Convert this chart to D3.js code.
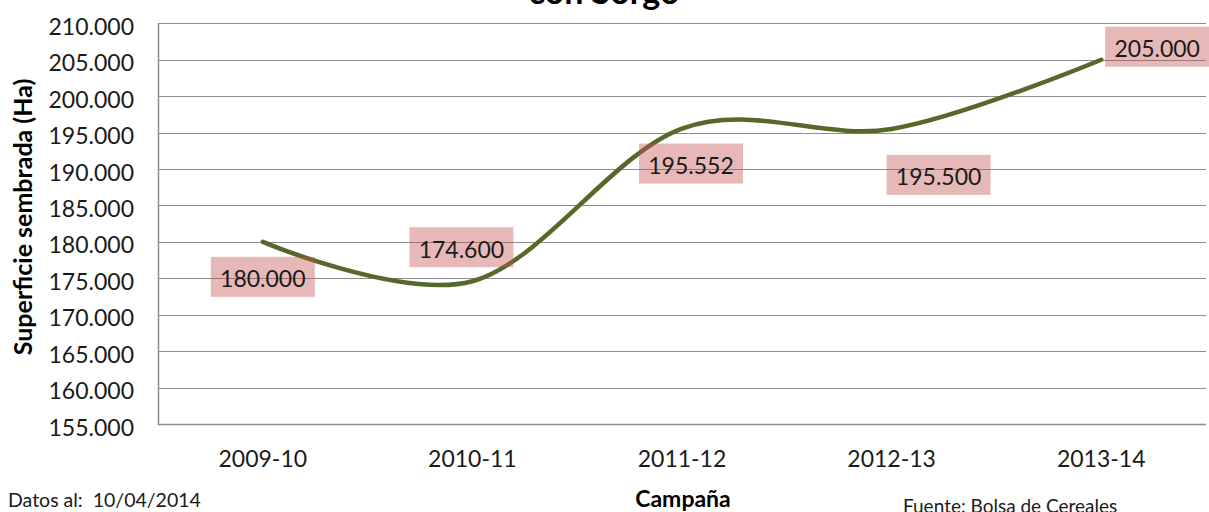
<!DOCTYPE html>
<html><head><meta charset="utf-8">
<script src="https://cdn.jsdelivr.net/npm/d3@7"></script>
<style>body{margin:0;background:#fff}svg{display:block;font-family:Lato,"Open Sans",sans-serif}</style>
</head><body>
<svg id="c" width="1209" height="512"></svg>
<script>
const categories = ["2009-10","2010-11","2011-12","2012-13","2013-14"];
const values = [180000,174600,195552,195500,205000];
const yTicks = [155000,160000,165000,170000,175000,180000,185000,190000,195000,200000,205000,210000];
const labelDx = [0,-11,9,47,56];
const labelDy = [35,-34,35,46,-13];

const svg = d3.select("#c");
const m={left:158,right:1206,top:23.3,bottom:424};
const f0 = v => { const s=String(Math.round(v)); return s.slice(0,s.length-3)+"."+s.slice(-3); };

const x = d3.scaleBand().domain(categories).range([m.left,m.right]);
const y = d3.scaleLinear().domain([155000,210000]).range([m.bottom,m.top]);

// gridlines
svg.append("g").selectAll("line").data(yTicks.slice(1)).join("line")
  .attr("x1",m.left).attr("x2",m.right)
  .attr("y1",d=>Math.round(y(d))+0.5).attr("y2",d=>Math.round(y(d))+0.5)
  .attr("stroke","#8c8c8c").attr("stroke-width",1);

// axes lines
svg.append("line").attr("x1",m.left+0.5).attr("x2",m.left+0.5).attr("y1",m.top).attr("y2",m.bottom+1)
  .attr("stroke","#8c8c8c").attr("stroke-width",1.5);
svg.append("line").attr("x1",m.left).attr("x2",m.right).attr("y1",m.bottom+0.5).attr("y2",m.bottom+0.5)
  .attr("stroke","#8c8c8c").attr("stroke-width",1.5);

// y tick labels
svg.append("g").selectAll("text").data(yTicks).join("text")
  .attr("x",134).attr("y",d=>y(d)+11.5).attr("text-anchor","end")
  .attr("font-size",23).attr("fill","#1a1a1a").text(d=>f0(d));

// x labels
svg.append("g").selectAll("text").data(categories).join("text")
  .attr("x",d=>x(d)+x.bandwidth()/2).attr("y",467).attr("text-anchor","middle")
  .attr("font-size",23).attr("fill","#1a1a1a").text(d=>d);

// line
const pts = categories.map((c,i)=>[x(c)+x.bandwidth()/2, y(values[i])]);
svg.append("path").attr("d",d3.line().curve(d3.curveCardinal.tension(0))(pts))
  .attr("fill","none").attr("stroke","#56692a").attr("stroke-width",4.5).attr("stroke-linecap","round");

// labels
const lg = svg.append("g").selectAll("g").data(values).join("g")
  .attr("transform",(d,i)=>`translate(${pts[i][0]+labelDx[i]},${pts[i][1]+labelDy[i]})`);
lg.append("rect").attr("x",-52).attr("y",-20).attr("width",104).attr("height",40)
  .attr("fill","#c0504d").attr("fill-opacity",0.4);
lg.append("text").attr("y",10.5).attr("text-anchor","middle").attr("font-size",23)
  .attr("fill","#1a1a1a").text(d=>f0(d));

// title (cut off at top, as in the reference)
svg.append("text").attr("x",604).attr("y",3.5).attr("text-anchor","middle")
  .attr("font-size",34).attr("font-weight","bold").attr("fill","#000").text("con Sorgo");

// axis titles
svg.append("text").attr("transform","translate(32,217) rotate(-90)").attr("text-anchor","middle")
  .attr("font-size",25).attr("font-weight","bold").attr("fill","#000").text("Superficie sembrada (Ha)");
svg.append("text").attr("x",683).attr("y",507).attr("text-anchor","middle")
  .attr("font-size",23).attr("font-weight","bold").attr("fill","#000").text("Campaña");

svg.append("text").attr("x",8).attr("y",507).attr("font-size",19.5).attr("fill","#1a1a1a")
  .style("white-space","pre").text("Datos al:  10/04/2014");
svg.append("text").attr("x",903).attr("y",513).attr("font-size",19).attr("fill","#1a1a1a").text("Fuente: Bolsa de Cereales");
</script>
</body></html>
